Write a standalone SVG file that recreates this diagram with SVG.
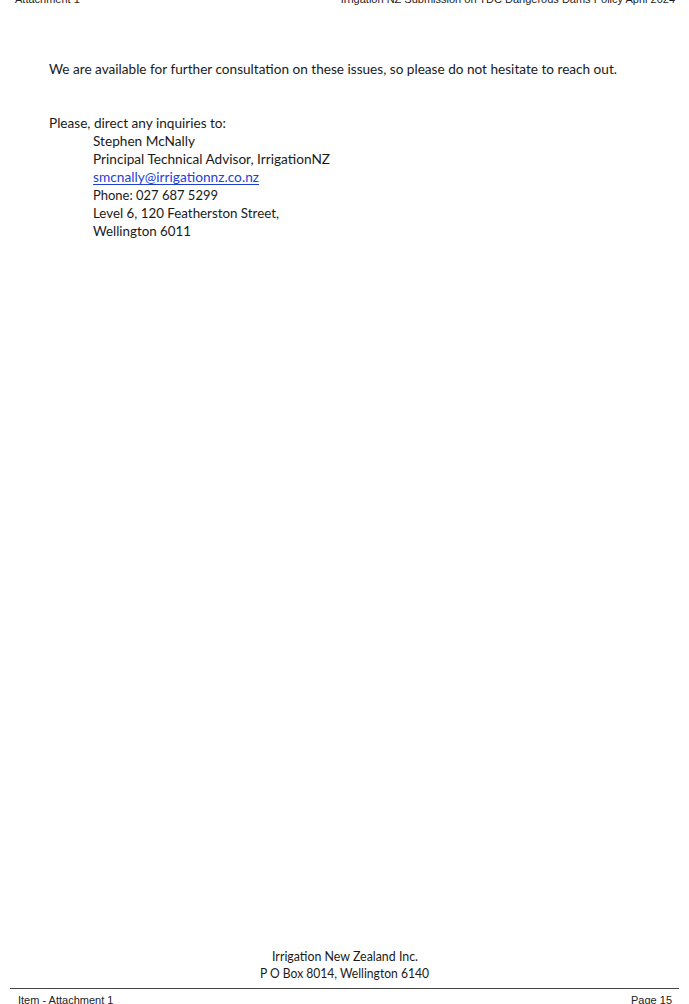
<svg xmlns="http://www.w3.org/2000/svg" width="689" height="1004" viewBox="0 0 689 1004">
<style>
.b{font-family:Lato,"Open Sans",sans-serif;font-size:13.5px;fill:#1a1a1a}
.h{font-family:"Liberation Sans",Arial,sans-serif;font-size:11px;fill:#222}
</style>
<rect width="689" height="1004" fill="#fff"/>
<text class="h" x="15" y="3">Attachment 1</text>
<text class="h" x="675" y="3" text-anchor="end">Irrigation NZ Submission on TDC Dangerous Dams Policy April 2024</text>
<text class="b" x="49" y="74" textLength="568" lengthAdjust="spacingAndGlyphs">We are available for further consultation on these issues, so please do not hesitate to reach out.</text>
<text class="b" x="49" y="128" textLength="177" lengthAdjust="spacingAndGlyphs">Please, direct any inquiries to:</text>
<text class="b" x="93" y="146" textLength="102" lengthAdjust="spacingAndGlyphs">Stephen McNally</text>
<text class="b" x="93" y="164" textLength="237" lengthAdjust="spacingAndGlyphs">Principal Technical Advisor, IrrigationNZ</text>
<text class="b" x="93" y="182" textLength="166" lengthAdjust="spacingAndGlyphs" style="fill:#1f3fd8">smcnally@irrigationnz.co.nz</text>
<line x1="93" y1="184.5" x2="259" y2="184.5" stroke="#1f3fd8" stroke-width="1"/>
<text class="b" x="93" y="200" textLength="125" lengthAdjust="spacingAndGlyphs">Phone: 027 687 5299</text>
<text class="b" x="93" y="218" textLength="186" lengthAdjust="spacingAndGlyphs">Level 6, 120 Featherston Street,</text>
<text class="b" x="93" y="236" textLength="98" lengthAdjust="spacingAndGlyphs">Wellington 6011</text>
<text class="b" x="272" y="961" font-size="12" textLength="146" lengthAdjust="spacingAndGlyphs">Irrigation New Zealand Inc.</text>
<text class="b" x="260" y="978" font-size="12" textLength="169" lengthAdjust="spacingAndGlyphs">P O Box 8014, Wellington 6140</text>
<line x1="10" y1="988.5" x2="679" y2="988.5" stroke="#444" stroke-width="1"/>
<text class="h" x="18" y="1004">Item   - Attachment 1</text>
<text class="h" x="672" y="1004" text-anchor="end">Page 15</text>
</svg>
